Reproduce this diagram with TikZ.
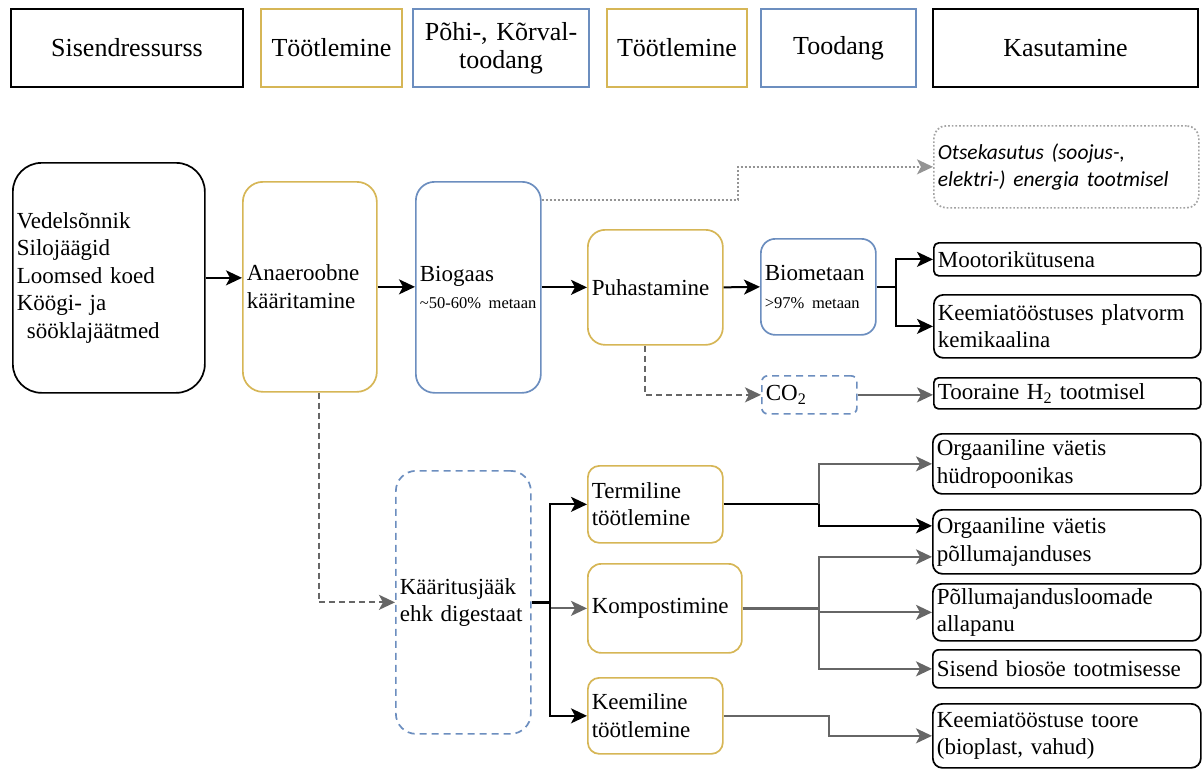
\documentclass[tikz,border=0pt]{standalone}
\usepackage{fontspec}
\setmainfont{Liberation Serif}
\newfontfamily\notefont{Carlito}
\usepackage{tikz}
\usetikzlibrary{arrows.meta}
\usetikzlibrary{calc}
\definecolor{ylw}{HTML}{D6B656}
\definecolor{blu}{HTML}{6C8EBF}
\definecolor{lnk}{HTML}{666666}
\newcommand{\txtbody}{\fontsize{23}{27.5}\selectfont}
\newcommand{\txthdr}{\fontsize{26}{28}\selectfont}
\newcommand{\txtsmall}{\fontsize{16.5}{20}\selectfont}
\newcommand{\bx}[7]{\pgfmathsetmacro\bxw{#5-#3}\pgfmathsetmacro\bxh{#6-#4}\pgfmathsetmacro\bxt{#5-#3-8}\pgfmathsetmacro\bxr{0.15*min(#5-#3,#6-#4)}%
  \node[rounded corners=\bxr pt, #1, anchor=north west, minimum width=\bxw pt, minimum height=\bxh pt, text width=\bxt pt] (#2) at (#3,#4) {#7};}
\tikzset{
  box/.style={draw, line width=1.7pt, inner xsep=4pt, inner ysep=2pt, align=left, font=\txtbody},
  hdr/.style={box, sharp corners, line width=2pt, align=center, font=\txthdr},
  src/.style={box, draw=black},
  proc/.style={box, draw=ylw},
  prod/.style={box, draw=blu},
  byprod/.style={prod, dash pattern=on 7pt off 5pt},
  use/.style={box, draw=black},
  note/.style={box, draw=lnk!60, dotted},
  link/.style={-{Stealth[length=16pt,width=15pt,inset=4pt]}, line width=2pt},
  glink/.style={link, draw=lnk},
  dlink/.style={glink, dash pattern=on 6pt off 4pt},
  tlink/.style={link, draw=lnk!70, dotted}
}

\begin{document}
\begin{tikzpicture}[x=1pt, y=-1pt]
        \useasboundingbox (0,0) rectangle (1203,769);
        % header
        \bx{hdr}{hsis}{10}{8}{242}{86}{Sisendressurss}
        \bx{hdr, draw=ylw}{htoo}{260}{8}{401}{86}{Töötlemine}
        \bx{hdr, draw=blu}{hpoh}{412}{8}{588}{86}{Põhi-, Kõrval-\\toodang}
        \bx{hdr, draw=ylw}{htoob}{606}{8}{746}{86}{Töötlemine}
        \bx{hdr, draw=blu}{htod}{760}{8}{915}{86}{Toodang}
        \bx{hdr}{hkas}{932}{8}{1197}{86}{Kasutamine}
        % biogas line
        \bx{src}{sisend}{12}{162}{204}{392}{Vedelsõnnik\\Silojäägid\\Loomsed koed\\Köögi- ja\\\hspace*{10pt}sööklajäätmed}
        \bx{proc}{anaer}{242}{181}{376}{391}{Anaeroobne\\kääritamine}
        \bx{prod}{biogaas}{415}{181}{540}{392}{Biogaas\\{\txtsmall\textasciitilde50-60\% metaan}}
        \bx{proc}{puhast}{587}{229}{722}{344}{Puhastamine}
        \bx{prod}{biomet}{760}{238}{875}{334}{Biometaan\\{\txtsmall>97\% metaan}}
        \bx{byprod}{co2}{761}{375}{856}{413}{CO\textsubscript{2}}
        \bx{note}{otse}{933}{125}{1198}{207}{\notefont\itshape\fontsize{21.5}{29}\selectfont Otsekasutus (soojus-,\\elektri-) energia tootmisel}
        \bx{use}{moot}{933}{242}{1200}{275}{Mootorikütusena}
        \bx{use}{keem}{933}{294}{1200}{357}{Keemiatööstuses platvorm\\kemikaalina}
        \bx{use}{toor}{933}{377}{1200}{408}{Tooraine H\textsubscript{2} tootmisel}
        % digestate line
        \bx{byprod}{kaarit}{395}{470}{530}{733}{Kääritusjääk\\ehk digestaat}
        \bx{proc}{termil}{587}{465}{722}{542}{Termiline\\töötlemine}
        \bx{proc}{kompost}{587}{563}{741}{652}{Kompostimine}
        \bx{proc}{keemil}{587}{677}{722}{753}{Keemiline\\töötlemine}
        \bx{use}{hudro}{932}{433}{1200}{493}{Orgaaniline väetis\\hüdropoonikas}
        \bx{use}{pollu}{932}{509}{1200}{573}{Orgaaniline väetis\\põllumajanduses}
        \bx{use}{loomad}{932}{583}{1200}{640}{Põllumajandusloomade\\allapanu}
        \bx{use}{biosoe}{932}{649}{1200}{687}{Sisend biosöe tootmisesse}
        \bx{use}{toore}{932}{703}{1200}{767}{Keemiatööstuse toore\\(bioplast, vahud)}
        % connectors, top
        \draw[link] (sisend.east) -- (sisend.east -| anaer.west);
        \draw[link] (anaer.east) -- (anaer.east -| biogaas.west);
        \draw[link] (biogaas.east) -- (puhast.west);
        \draw[link] (puhast.east) -- (biomet.west);
        \coordinate (bsplit) at ($(biomet.east)+(19,0)$);
        \draw[line width=2pt] (biomet.east) -- (bsplit);
        \draw[link] (bsplit) |- (moot.west);
        \draw[link] (bsplit) |- (keem.west);
        \draw[dlink] ([xshift=-10pt]puhast.south) |- (co2.west);
        \draw[glink] (co2.east) -- (co2.east -| toor.west);
        \draw[tlink] ($(biogaas.north east)+(0,19)$) -- ++(196,0) |- (otse.west);
        % connectors, bottom
        \draw[dlink] ([xshift=9pt]anaer.south) |- (kaarit.west);
        \coordinate (ksplit) at ($(kaarit.east)+(18,0)$);
        \draw[line width=2.5pt] (kaarit.east) -- (ksplit);
        \draw[link] (ksplit) |- (termil.west);
        \draw[glink] (ksplit) |- (kompost.west);
        \draw[link] (ksplit) |- (keemil.west);
        \coordinate (tsplit) at ($(termil.east)+(95,0)$);
        \draw[line width=2pt] (termil.east) -- (tsplit);
        \draw[glink] (tsplit) |- (hudro.west);
        \draw[link] (tsplit) |- ([yshift=16pt]pollu.west);
        \coordinate (csplit) at ($(kompost.east)+(76,0)$);
        \draw[lnk, line width=2.6pt] (kompost.east) -- (csplit);
        \draw[glink] (csplit) |- ([yshift=-15pt]pollu.west);
        \draw[glink] (csplit) |- (loomad.west);
        \draw[glink] (csplit) |- (biosoe.west);
        \draw[glink] (keemil.east) -- ++(105,0) |- (toore.west);
\end{tikzpicture}
\end{document}
